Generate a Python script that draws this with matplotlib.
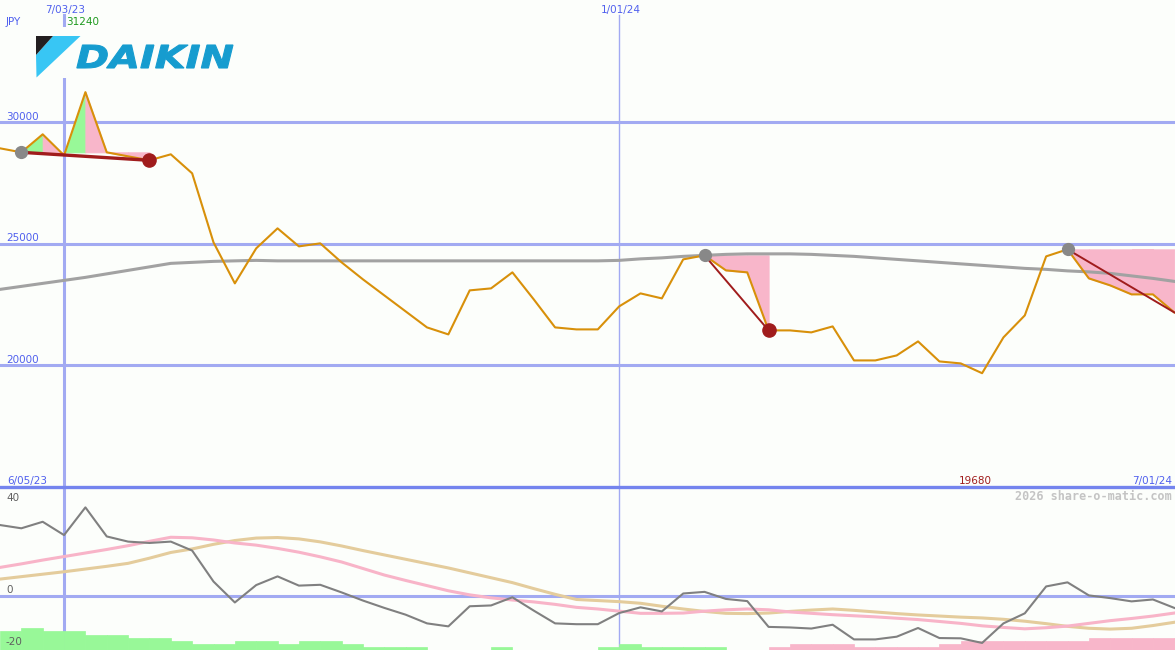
import numpy as np
import matplotlib.pyplot as plt
from matplotlib.patches import Polygon, Rectangle, PathPatch
from matplotlib.textpath import TextPath
from matplotlib.path import Path
from matplotlib.font_manager import FontProperties

# weekly closes, JPY
price = [28930, 28765, 29506, 28642, 31240, 28765, 28600, 28436, 28683, 27901,
         25062, 23375, 24815, 25638, 24897, 25021, 24239, 23540, 22881, 22223,
         21564, 21276, 23087, 23169, 23828, 22717, 21564, 21482, 21482, 22428,
         22963, 22757, 24362, 24527, 23910, 23828, 21441, 21441, 21359, 21605,
         20206, 20206, 20412, 20988, 20165, 20083, 19680, 21153, 22058, 24486,
         24774, 23581, 23292, 22922, 22922, 22181]

# long moving average
ma_long = [23128, 23251, 23375, 23498, 23622, 23766, 23910, 24054, 24198, 24239,
           24280, 24301, 24321, 24301, 24301, 24301, 24301, 24301, 24301, 24301,
           24301, 24301, 24301, 24301, 24301, 24301, 24301, 24301, 24301, 24321,
           24383, 24424, 24486, 24527, 24568, 24589, 24589, 24589, 24568, 24527,
           24486, 24424, 24362, 24301, 24239, 24177, 24116, 24054, 23992, 23951,
           23889, 23848, 23786, 23683, 23580, 23457]

# lower panel: momentum and its two averages
momentum = [26.0, 24.8, 27.2, 22.3, 32.5, 21.8, 19.9, 19.4, 19.9, 16.6,
            5.2, -2.5, 3.9, 7.1, 3.7, 4.0, 1.2, -1.8, -4.5, -7.0,
            -10.2, -11.3, -3.9, -3.6, -0.6, -5.5, -10.2, -10.5, -10.5, -6.4,
            -4.3, -5.8, 0.8, 1.4, -1.2, -2.0, -11.5, -11.7, -12.1, -10.7,
            -16.1, -16.1, -15.1, -11.9, -15.6, -15.7, -17.4, -10.2, -6.5, 3.4,
            4.9, 0.1, -0.9, -2.1, -1.4, -4.5]
mom_fast = [10.4, 11.7, 13.1, 14.4, 15.7, 17.0, 18.4, 20.0, 21.5, 21.3,
            20.5, 19.4, 18.6, 17.4, 16.0, 14.3, 12.4, 10.0, 7.6, 5.6,
            3.7, 1.8, 0.3, -0.8, -1.6, -2.3, -3.2, -4.3, -4.9, -5.7,
            -6.5, -6.5, -6.4, -5.7, -5.2, -4.9, -5.2, -6.0, -6.5, -7.0,
            -7.4, -7.8, -8.3, -8.8, -9.5, -10.2, -11.1, -11.7, -12.2, -11.8,
            -11.2, -10.2, -9.2, -8.4, -7.5, -6.4]
mom_slow = [6.1, 7.0, 7.9, 8.8, 9.8, 10.8, 11.9, 13.8, 15.9, 17.2,
            18.9, 20.3, 21.2, 21.4, 20.9, 19.8, 18.3, 16.6, 15.0, 13.4,
            11.8, 10.2, 8.4, 6.6, 4.8, 2.6, 0.5, -1.4, -1.8, -2.2,
            -2.8, -3.9, -4.9, -5.8, -6.5, -6.6, -6.4, -5.8, -5.3, -4.9,
            -5.4, -6.0, -6.6, -7.1, -7.5, -7.9, -8.2, -8.7, -9.4, -10.3,
            -11.3, -12.0, -12.3, -12.0, -11.0, -9.8]
# histogram, positive = green, negative = pink
hist = [7.0, 8.2, 7.0, 7.0, 5.5, 5.5, 4.5, 4.5, 3.3, 2.2,
        2.2, 3.3, 3.3, 2.2, 3.3, 3.3, 2.2, 1.1, 1.1, 1.1,
        0, 0, 0, 1.1, 0, 0, 0, 0, 1.1, 2.2,
        1.1, 1.1, 1.1, 1.1, 0, 0, -1.1, -2.2, -2.2, -2.2,
        -1.1, -1.1, -1.1, -1.1, -2.2, -3.3, -3.3, -3.3, -3.3, -3.3,
        -3.3, -4.5, -4.5, -4.5, -4.5, -4.5]

# (start week, end week, show end dot)
trends = [(1, 7, True), (33, 36, True), (50, 55, False)]
date_lines = [3, 29]

W, H = 1175, 650
bg = '#fcfefb'
grid_c = '#a2aaf2'
green = '#98f898'
pink = '#f8b6ca'
darkred = '#a01c1c'

fig = plt.figure(figsize=(W / 100, H / 100), dpi=100, facecolor=bg)
top_h = 487 / H
ax = fig.add_axes([0, 1 - top_h, 1, top_h], facecolor=bg)
ax2 = fig.add_axes([0, 0, 1, 1 - top_h], facecolor=bg)
for a in (ax, ax2):
    for s in a.spines.values():
        s.set_visible(False)
    a.set_xticks([])
    a.set_yticks([])

x = np.arange(len(price))
xmax = W / 21.35

# ---- price panel
ax.set_xlim(0, xmax)
ax.set_ylim(15000, 35030)
for lv in [20000, 25000, 30000]:
    ax.axhline(lv, color=grid_c, lw=2.2, zorder=0.5)
ax.axvline(date_lines[0], ymax=0.97, color=grid_c, lw=2.2, zorder=0.5)
ax.axvline(date_lines[1], ymax=0.97, color=grid_c, lw=1.0, zorder=0.5)

for s, e, dot_end in trends:
    level = price[s]
    for i in range(s, min(e, len(price) - 1)):
        col = green if price[i + 1] > price[i] else pink
        ax.fill_between([i, i + 1], [price[i], price[i + 1]], level,
                        facecolor=col, edgecolor=col, lw=0.7, zorder=1)

ax.plot(x, ma_long, color='#a2a2a2', lw=2.2, zorder=2)
ax.plot(x, price, color='#d8900a', lw=1.5, zorder=3)

for k, (s, e, dot_end) in enumerate(trends):
    ax.plot([s, e], [price[s], price[e]], color=darkred, lw=2.4 if k == 0 else 1.4, zorder=4)
    ax.plot(s, price[s], 'o', color='#888888', ms=8.5, zorder=5)
    if dot_end:
        ax.plot(e, price[e], 'o', color=darkred, ms=9.5, zorder=5)

# ---- momentum panel
ax2.set_xlim(0, xmax)
ax2.set_ylim(-20, 40)
ax2.axhline(0, color=grid_c, lw=2.2, zorder=0.5)
ax2.axhline(40, color='#7484ee', lw=2.4, zorder=6, clip_on=False)
ax2.axvline(date_lines[0], color=grid_c, lw=2.2, zorder=0.5)
ax2.axvline(date_lines[1], color=grid_c, lw=1.0, zorder=0.5)
hist = np.array(hist)
bar_cols = [green if v >= 0 else pink for v in hist]
ax2.bar(x, np.abs(hist), width=1.0, align='edge', bottom=-20,
        color=bar_cols, edgecolor=bar_cols, lw=0.5, zorder=1)
ax2.plot(x, mom_slow, color='#e4cc9c', lw=2.2, zorder=2)
ax2.plot(x, mom_fast, color='#f8b4c8', lw=2.2, zorder=2)
ax2.plot(x, momentum, color='#808080', lw=1.5, zorder=3)

# ---- overlay in pixel coords for labels and logo
ov = fig.add_axes([0, 0, 1, 1], facecolor='none')
ov.set_xlim(0, W)
ov.set_ylim(H, 0)
ov.axis('off')

ov.add_patch(Rectangle((30, 27), 212, 51, color=bg, lw=0))
ov.add_patch(Polygon([(53, 36), (80.5, 36), (36.5, 77.5), (36, 55)], color='#38c6f4', lw=0))
ov.add_patch(Polygon([(36, 36), (53, 36), (36, 55)], color='#231f20', lw=0))
tp = TextPath((0, 0), 'DAIKIN', size=1,
              prop=FontProperties(family='DejaVu Sans', weight='bold', style='oblique'))
v = tp.vertices.copy()
x0, y0 = v.min(axis=0)
x1, y1 = v.max(axis=0)
v[:, 0] = 76 + (v[:, 0] - x0) * (157 / (x1 - x0))
v[:, 1] = 68 - (v[:, 1] - y0) * (23 / (y1 - y0))
ov.add_patch(PathPatch(Path(v, tp.codes), facecolor='#169ccf', edgecolor='#169ccf', lw=0.8))

blue_t = '#5060ee'
fs = 7.5
labels = [
    ('7/03/23', 65, 13, 'center', blue_t),
    ('1/01/24', 621, 13, 'center', blue_t),
    ('JPY', 6, 25, 'left', blue_t),
    ('31240', 66, 25, 'left', '#209a20'),
    ('30000', 6, 120, 'left', blue_t),
    ('25000', 6, 241, 'left', blue_t),
    ('20000', 6, 363, 'left', blue_t),
    ('6/05/23', 7, 484, 'left', blue_t),
    ('19680', 975, 484, 'center', darkred),
    ('7/01/24', 1172, 484, 'right', blue_t),
    ('40', 6, 501, 'left', '#606060'),
    ('0', 6, 593, 'left', '#606060'),
    ('-20', 6, 645, 'left', '#606060'),
]
for txt, tx, ty, ha, c in labels:
    ov.text(tx, ty, txt, ha=ha, va='baseline', fontsize=fs, color=c, family='DejaVu Sans')
ov.text(1172, 500, '2026 share-o-matic.com', ha='right', va='baseline', fontsize=8.5,
        color='#c4c4c4', family='DejaVu Sans Mono', weight='bold')

fig.savefig('out.png', dpi=100, facecolor=bg)
